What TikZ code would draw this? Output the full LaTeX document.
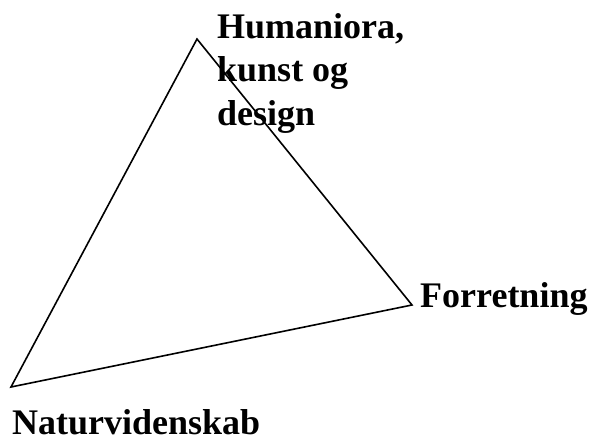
\documentclass[tikz,border=0pt]{standalone}
\usepackage{fontspec}
\setmainfont{Liberation Serif}
\usepackage{tikz}
\usetikzlibrary{positioning}

\begin{document}
\begin{tikzpicture}[x=1pt, y=-1pt,
  corner/.style={font=\fontsize{36}{43.5}\selectfont\bfseries, inner sep=0pt, align=left}]
\useasboundingbox (0,0) rectangle (595,439);
\coordinate (top) at (197,39);
\coordinate (right) at (412,305);
\coordinate (left) at (11,387);
\draw[line width=1.6pt] (top) -- (right) -- (left) -- cycle;
\node[corner, anchor=base west] (huma) at (217,125) {Humaniora,\\kunst og\\design};
\node[corner, anchor=base west] (forr) at (420,307) {Forretning};
\node[corner, anchor=base west] (natu) at (12,434) {Naturvidenskab};
\end{tikzpicture}
\end{document}
